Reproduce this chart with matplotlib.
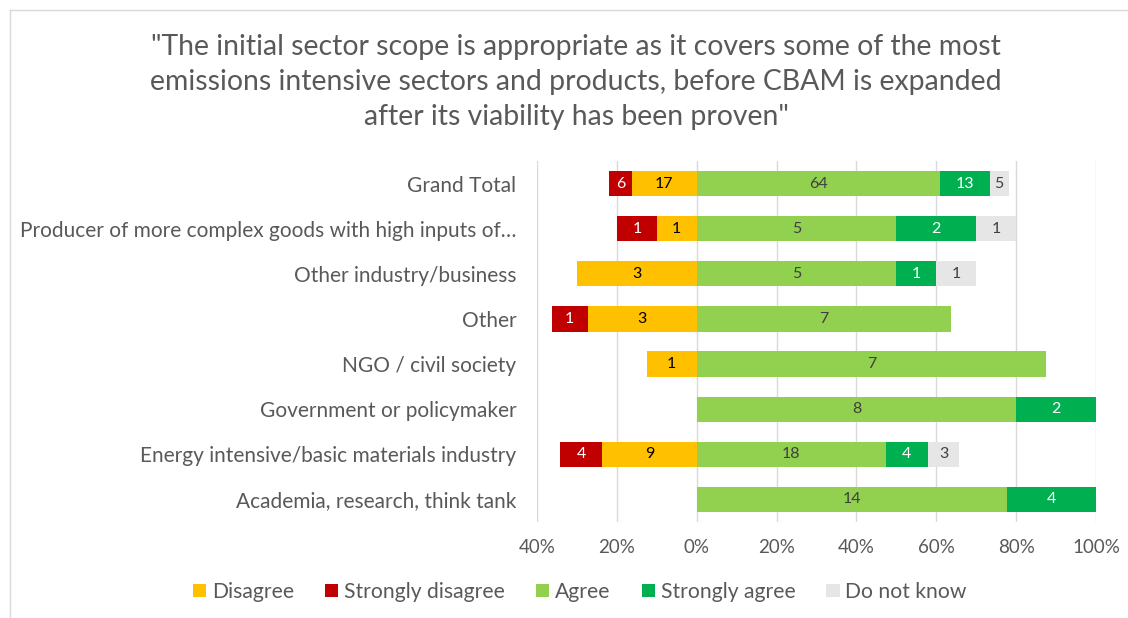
import matplotlib
matplotlib.use("Agg")
import matplotlib.pyplot as plt
from matplotlib.lines import Line2D
from matplotlib.patches import Patch
import numpy as np

plt.rcParams['font.family'] = ['Lato', 'DejaVu Sans']

# Respondent groups (top to bottom) and answer counts
categories = [
    "Grand Total",
    "Producer of more complex goods with high inputs of\u2026",
    "Other industry/business",
    "Other",
    "NGO / civil society",
    "Government or policymaker",
    "Energy intensive/basic materials industry",
    "Academia, research, think tank",
]
strongly_disagree = [6, 1, 0, 1, 0, 0, 4, 0]
disagree = [17, 1, 3, 3, 1, 0, 9, 0]
agree = [64, 5, 5, 7, 7, 8, 18, 14]
strongly_agree = [13, 2, 1, 0, 0, 2, 4, 4]
do_not_know = [5, 1, 1, 0, 0, 0, 3, 0]

tick_values = [-0.4, -0.2, 0, 0.2, 0.4, 0.6, 0.8, 1.0]
tick_labels = ["40%", "20%", "0%", "20%", "40%", "60%", "80%", "100%"]

title = ('"The initial sector scope is appropriate as it covers some of the most\n'
         'emissions intensive sectors and products, before CBAM is expanded\n'
         'after its viability has been proven"')

c_dis, c_sdis = "#FFC000", "#C00000"
c_agr, c_sagr, c_dk = "#92D050", "#00B050", "#E7E6E6"
grey_txt = "#595959"

sd = np.array(strongly_disagree, float)
d = np.array(disagree, float)
a = np.array(agree, float)
sa = np.array(strongly_agree, float)
dk = np.array(do_not_know, float)
total = sd + d + a + sa + dk

fig = plt.figure(figsize=(11.28, 6.18), dpi=100)
ax = fig.add_axes([537 / 1128, 1 - 522 / 618, 559 / 1128, 361 / 618])

y = np.arange(len(categories))
h = 0.56

segments = [
    # (counts, left-edge, width, face colour, label colour, legend label)
    (d, -d / total, d / total, c_dis, "black", "Disagree"),
    (sd, -(d + sd) / total, sd / total, c_sdis, "white", "Strongly disagree"),
    (a, np.zeros_like(a), a / total, c_agr, "#404040", "Agree"),
    (sa, a / total, sa / total, c_sagr, "white", "Strongly agree"),
    (dk, (a + sa) / total, dk / total, c_dk, "#404040", "Do not know"),
]

for counts, left, width, col, tcol, lab in segments:
    ax.barh(y, width, left=left, height=h, color=col, edgecolor="none", zorder=3)
    for yi, c, l, w in zip(y, counts, left, width):
        if c > 0:
            ax.text(l + w / 2, yi, f"{int(c)}", ha="center", va="center",
                    fontsize=11.5, color=tcol, zorder=4)

ax.set_xlim(-0.4, 1.0)
ax.set_ylim(len(categories) - 0.5, -0.5)
ax.set_xticks(tick_values)
ax.set_xticklabels(tick_labels, fontsize=13.5, color=grey_txt)
ax.set_yticks(y)
ax.set_yticklabels(categories, fontsize=15.0, color=grey_txt)
ax.tick_params(axis="both", length=0)
ax.tick_params(axis="y", pad=15)
ax.tick_params(axis="x", pad=12)
ax.grid(axis="x", color="#D9D9D9", linewidth=1, zorder=0)
for s in ax.spines.values():
    s.set_visible(False)

fig.text(576 / 1128, 1 - 82 / 618, title, ha="center", va="center",
         fontsize=20.4, color=grey_txt, linespacing=1.42)

handles = [Patch(facecolor=col, edgecolor="none", label=lab)
           for _, _, _, col, _, lab in segments]
fig.legend(handles=handles, loc="center", bbox_to_anchor=(580 / 1128, 1 - 592 / 618),
           ncol=5, frameon=False, fontsize=15.2, labelcolor=grey_txt,
           handlelength=0.62, handleheight=0.62, handletextpad=0.28, columnspacing=1.47)

# chart frame
fig.add_artist(Line2D([10 / 1128, 1], [1 - 9.5 / 618, 1 - 9.5 / 618],
                      transform=fig.transFigure, color="#D9D9D9", linewidth=1))
fig.add_artist(Line2D([10 / 1128, 10 / 1128], [0, 1 - 9.5 / 618],
                      transform=fig.transFigure, color="#D9D9D9", linewidth=1))

fig.savefig("out.png", dpi=100, facecolor="white")
